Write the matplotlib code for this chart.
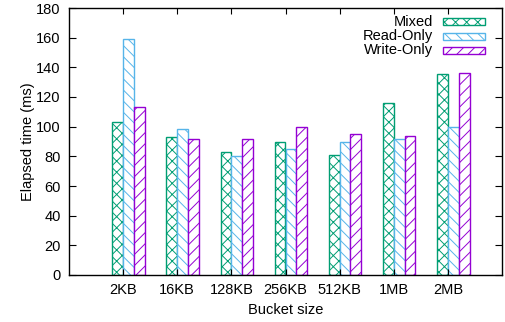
import numpy as np
import matplotlib
matplotlib.use('Agg')
import matplotlib.pyplot as plt
from matplotlib.patches import Rectangle

sizes = ['2KB', '16KB', '128KB', '256KB', '512KB', '1MB', '2MB']
mixed = [103, 93, 83, 90, 81, 116, 135.5]
read_only = [159, 98.5, 80.5, 85, 90, 91.5, 99.5]
write_only = [113.5, 91.5, 92, 99.5, 95, 94, 136]

series = [('Mixed', mixed, '#009e73', 'xxx'),
          ('Read-Only', read_only, '#56b4e9', '\\\\\\'),
          ('Write-Only', write_only, '#9400d3', '///')]

plt.rcParams['font.family'] = ['Liberation Sans', 'DejaVu Sans']
plt.rcParams['hatch.linewidth'] = 0.7
fs = 10.5

fig = plt.figure(figsize=(5.05, 3.22), dpi=100)
ax = fig.add_axes([69/505, 1 - 275/322, 433/505, 267/322])

x = np.arange(len(sizes))
w = 0.2
for j, (name, vals, col, hatch) in enumerate(series):
    ax.bar(x - 0.1 + j * w, vals, w, facecolor='white', edgecolor=col,
           hatch=hatch, linewidth=1.0)

ax.set_xlim(-1, 7)
ax.set_ylim(0, 180)
ax.set_yticks(range(0, 181, 20))
ax.set_xticks(x)
ax.set_xticklabels(sizes)
ax.tick_params(axis='y', direction='in', length=5, width=0.8, right=True,
               labelsize=fs, pad=6)
ax.tick_params(axis='x', direction='in', length=4, width=0.8, top=True,
               labelsize=fs, pad=6)
ax.set_ylabel('Elapsed time (ms)', fontsize=fs, labelpad=1)
ax.set_xlabel('Bucket size', fontsize=fs, labelpad=4)
for s in ax.spines.values():
    s.set_linewidth(1.0)

# legend, gnuplot style: label right-aligned, sample box on the right
for j, (name, vals, col, hatch) in enumerate(series):
    yc = 0.948 - j * 0.053
    ax.text(0.841, yc, name, transform=ax.transAxes, ha='right', va='center',
            fontsize=fs)
    ax.add_patch(Rectangle((0.864, yc - 0.013), 0.096, 0.026,
                           transform=ax.transAxes, facecolor='white',
                           edgecolor=col, hatch=hatch, linewidth=1.0))

fig.savefig('out.png', dpi=100)
